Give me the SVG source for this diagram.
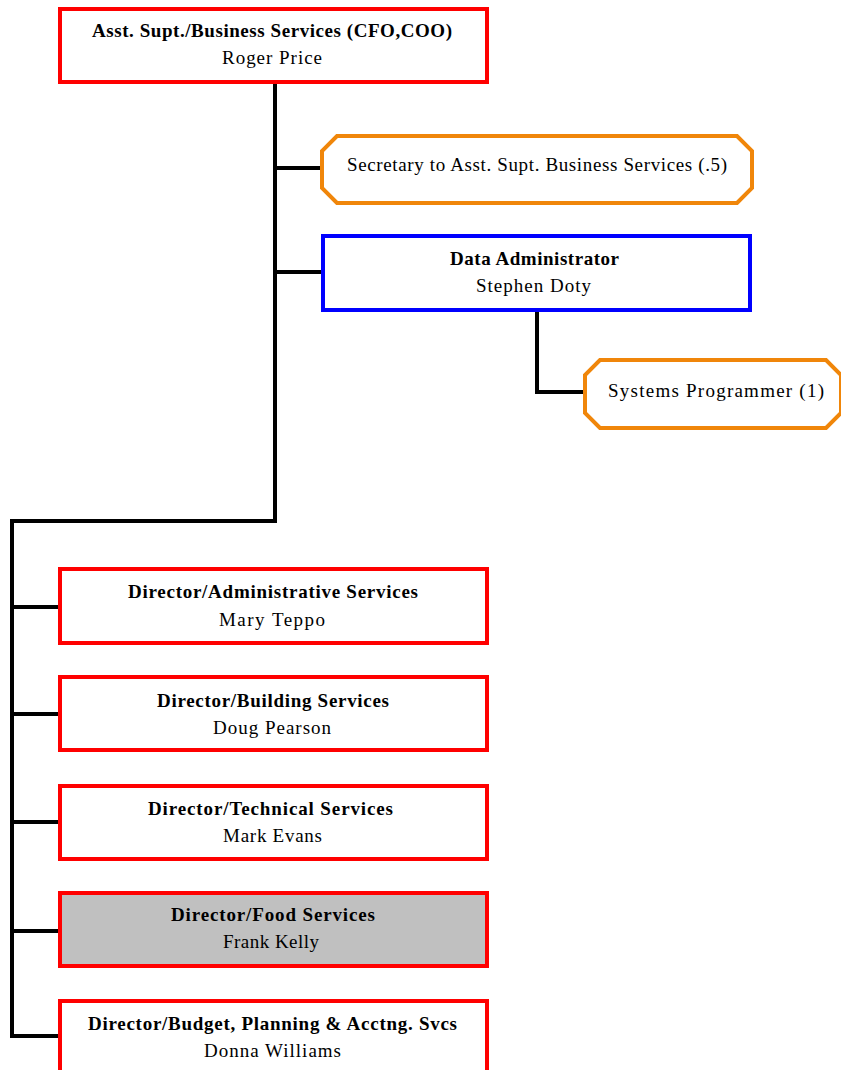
<svg xmlns="http://www.w3.org/2000/svg" width="841" height="1070" viewBox="0 0 841 1070">
  <style>
    .box { fill: #FFFFFF; stroke-width: 4; }
    .red { stroke: #FF0000; }
    .blue { stroke: #0000FF; }
    .orange { stroke: #F0860A; }
    .grey { fill: #C0C0C0; }
    .wire { fill: none; stroke: #000000; stroke-width: 4; stroke-linejoin: miter; stroke-linecap: butt; }
    text { font-family: "Liberation Serif", "Times New Roman", serif; font-size: 19px; fill: #000000; text-anchor: middle; }
    .title { font-weight: bold; }
  </style>

  <rect width="841" height="1070" fill="#FFFFFF"/>

  <!-- reporting lines -->
  <g id="connectors">
    <path class="wire" d="M275,84 V521 H12 V1038"/>
    <path class="wire" d="M275,168 H322"/>
    <path class="wire" d="M275,272 H322"/>
    <path class="wire" d="M537,312 V392 H585"/>
    <path class="wire" d="M12,607 H60"/>
    <path class="wire" d="M12,714 H60"/>
    <path class="wire" d="M12,822 H60"/>
    <path class="wire" d="M12,931 H60"/>
    <path class="wire" d="M10,1036 H60"/>
  </g>

  <g id="asst-supt">
    <rect class="box red" x="60" y="9" width="427" height="73"/>
    <text class="title" x="272" y="37" textLength="360" lengthAdjust="spacing">Asst. Supt./Business Services (CFO,COO)</text>
    <text x="272" y="64" textLength="100" lengthAdjust="spacing">Roger Price</text>
  </g>

  <g id="secretary">
    <polygon class="box orange" points="337,136 737,136 752,151 752,188 737,203 337,203 322,188 322,151"/>
    <text x="537" y="171" textLength="380" lengthAdjust="spacing">Secretary to Asst. Supt. Business Services (.5)</text>
  </g>

  <g id="data-admin">
    <rect class="box blue" x="323" y="236" width="427" height="74"/>
    <text class="title" x="534.5" y="265" textLength="169" lengthAdjust="spacing">Data Administrator</text>
    <text x="533.5" y="292" textLength="115" lengthAdjust="spacing">Stephen Doty</text>
  </g>

  <g id="systems-programmer">
    <polygon class="box orange" points="600,360 826,360 841,375 841,413 826,428 600,428 585,413 585,375"/>
    <text x="716" y="397" textLength="216" lengthAdjust="spacing">Systems Programmer (1)</text>
  </g>

  <g id="dir-admin">
    <rect class="box red" x="60" y="569" width="427" height="74"/>
    <text class="title" x="273" y="598" textLength="290" lengthAdjust="spacing">Director/Administrative Services</text>
    <text x="272" y="626" textLength="106" lengthAdjust="spacing">Mary Teppo</text>
  </g>

  <g id="dir-building">
    <rect class="box red" x="60" y="677" width="427" height="73"/>
    <text class="title" x="273" y="707" textLength="232" lengthAdjust="spacing">Director/Building Services</text>
    <text x="272" y="734" textLength="118" lengthAdjust="spacing">Doug Pearson</text>
  </g>

  <g id="dir-technical">
    <rect class="box red" x="60" y="786" width="427" height="73"/>
    <text class="title" x="270.5" y="815" textLength="245" lengthAdjust="spacing">Director/Technical Services</text>
    <text x="272.5" y="842" textLength="99" lengthAdjust="spacing">Mark Evans</text>
  </g>

  <g id="dir-food">
    <rect class="box red grey" x="60" y="893" width="427" height="73"/>
    <text class="title" x="273" y="921" textLength="204" lengthAdjust="spacing">Director/Food Services</text>
    <text x="271" y="948" textLength="96" lengthAdjust="spacing">Frank Kelly</text>
  </g>

  <g id="dir-budget">
    <rect class="box red" x="60" y="1001" width="427" height="80"/>
    <text class="title" x="272.5" y="1030" textLength="369" lengthAdjust="spacing">Director/Budget, Planning &amp; Acctng. Svcs</text>
    <text x="272.5" y="1057" textLength="137" lengthAdjust="spacing">Donna Williams</text>
  </g>
</svg>
